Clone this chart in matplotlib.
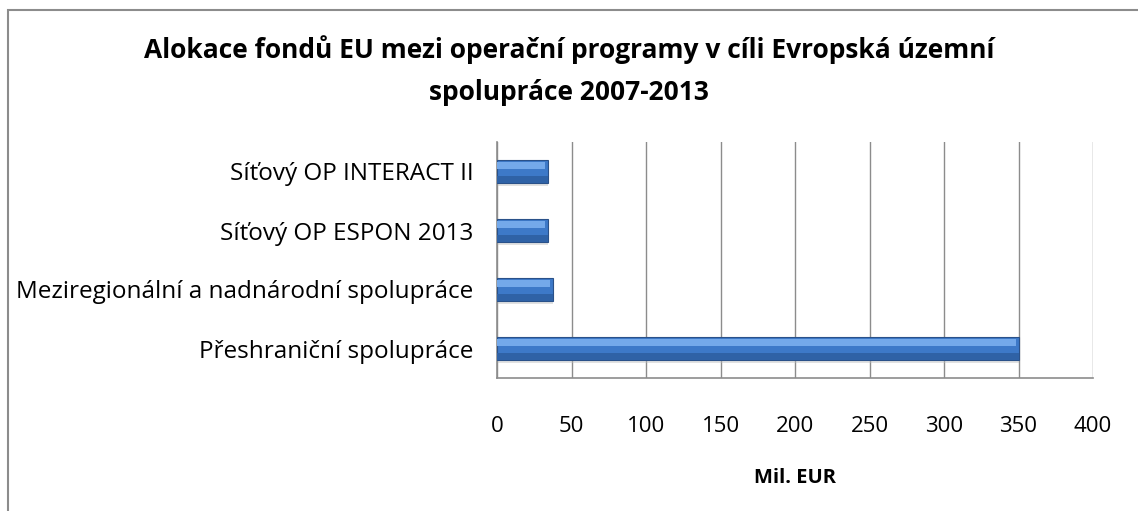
import matplotlib
matplotlib.use('Agg')
import matplotlib.pyplot as plt
from matplotlib.patches import Rectangle

# ---- data ----
categories = ['Přeshraniční spolupráce',
              'Meziregionální a nadnárodní spolupráce',
              'Síťový OP ESPON 2013',
              'Síťový OP INTERACT II']
values = [350.5, 37.5, 34, 34]
x_ticks = [0, 50, 100, 150, 200, 250, 300, 350, 400]

plt.rcParams['font.family'] = ['Open Sans', 'DejaVu Sans']

fig = plt.figure(figsize=(11.38, 5.11), dpi=100)
ax = fig.add_axes([497/1138, 1 - 378/511, (1093-497)/1138, (378-142)/511])

# frame of the chart (cropped on right and bottom)
fig.patches.append(Rectangle((8/1138, -0.1), 1.2, 1 - 10/511 + 0.1,
                             transform=fig.transFigure, fill=False,
                             edgecolor='#8c8c8c', linewidth=1.5))

pos = range(len(categories))
# shadow, body, top highlight, bottom shade
ax.barh([p - 0.05 for p in pos], values, height=0.4, color='#bdbdbd',
        alpha=0.45, zorder=2)
ax.barh(pos, values, height=0.4, color='#3d79c8', edgecolor='#2a5189',
        linewidth=0.8, zorder=3)
ax.barh([p + 0.1 for p in pos], [v - 2 for v in values], height=0.12,
        color='#74a9ea', linewidth=0, zorder=4)
ax.barh([p - 0.13 for p in pos], values, height=0.12,
        color='#2f62a6', linewidth=0, zorder=4)

ax.set_xlim(0, 400)
ax.set_ylim(-0.5, len(categories) - 0.5)
ax.set_xticks(x_ticks)
ax.set_yticks(list(pos))
ax.set_yticklabels(categories, fontsize=17.5)
ax.tick_params(axis='x', length=0, pad=27, labelsize=16)
ax.tick_params(axis='y', length=0, pad=17)
ax.grid(axis='x', color='#8c8c8c', linewidth=1, zorder=0)
ax.set_axisbelow(True)
for s in ['top', 'right']:
    ax.spines[s].set_visible(False)
for s in ['left', 'bottom']:
    ax.spines[s].set_color('#8c8c8c')
    ax.spines[s].set_linewidth(1.2)

ax.set_xlabel('Mil. EUR', fontsize=14.5, fontweight='bold', labelpad=23)

fig.text(0.5, 1 - 71/511,
         'Alokace fondů EU mezi operační programy v cíli Evropská územní\nspolupráce 2007-2013',
         ha='center', va='center', fontsize=19, fontweight='bold',
         linespacing=1.72)

fig.savefig('out.png', dpi=100)
